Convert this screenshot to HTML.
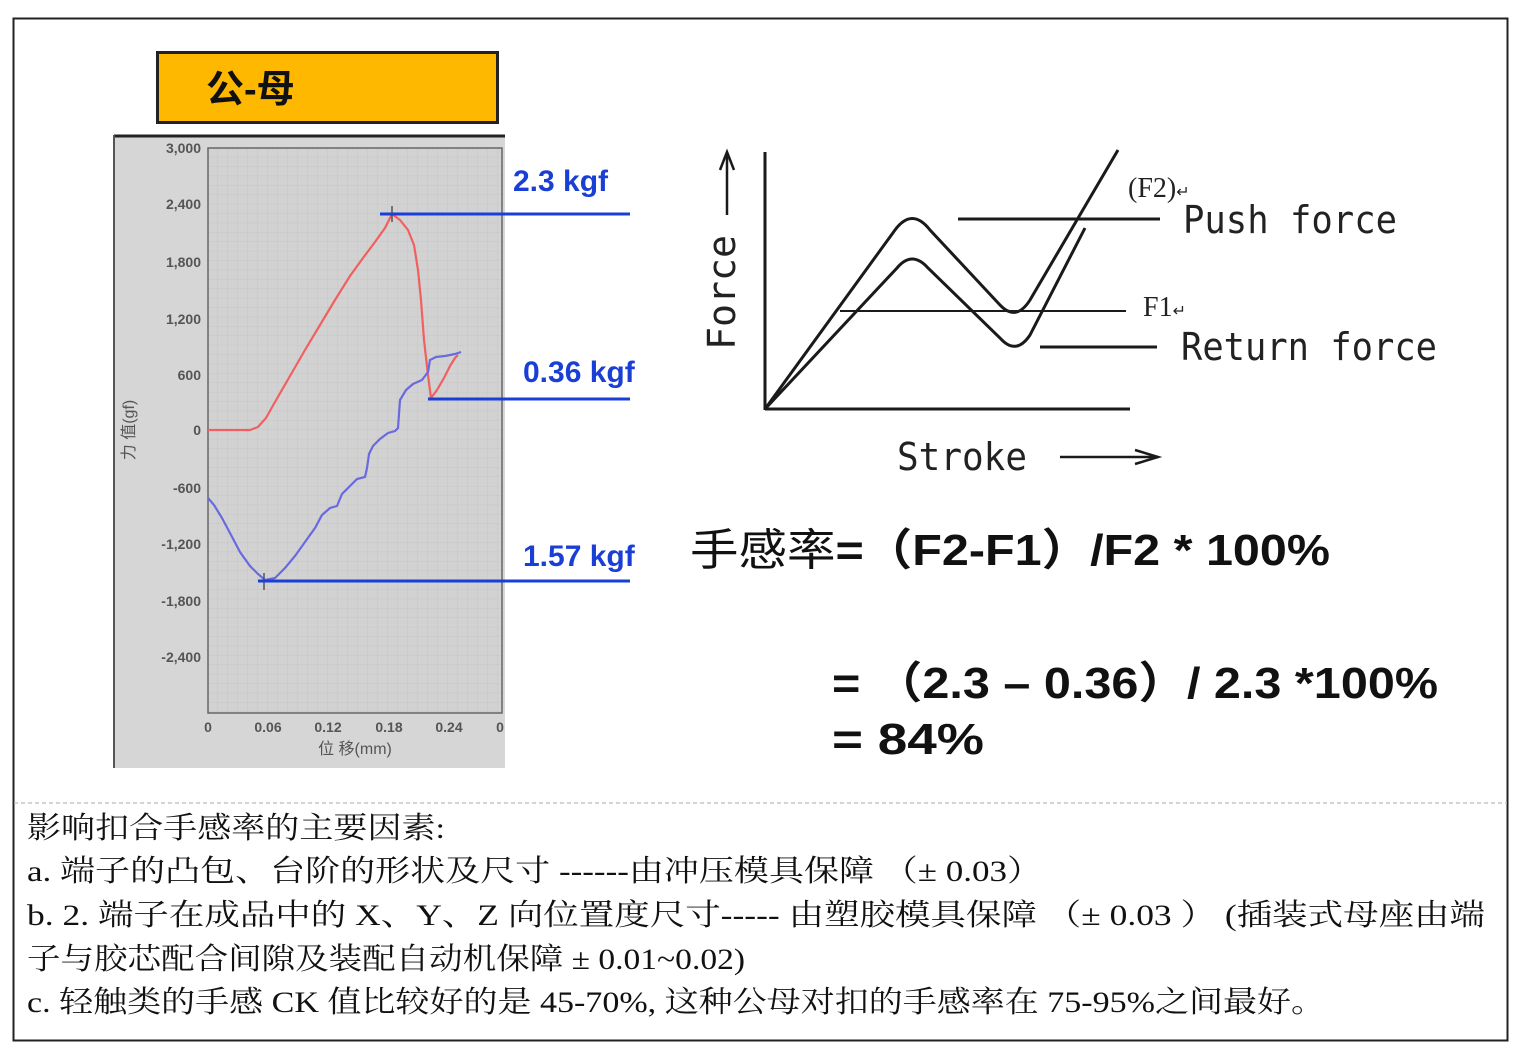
<!DOCTYPE html>
<html><head><meta charset="utf-8"><style>
html,body{margin:0;padding:0;background:#fff;}
svg{display:block;}
.s{font-family:"Liberation Serif","Noto Serif CJK SC",serif;font-size:30px;fill:#111;}
.t{font-family:"Liberation Sans","DejaVu Sans",sans-serif;font-size:14px;fill:#555;font-weight:bold;}
.k{font-family:"Liberation Sans",sans-serif;font-size:30px;font-weight:bold;fill:#1a3fd6;}
.f{font-family:"Liberation Sans","Noto Sans CJK SC",sans-serif;font-size:44px;font-weight:bold;fill:#111;}
.d{font-family:"DejaVu Sans Mono","Liberation Mono",monospace;font-size:38px;fill:#222;}
</style></head><body>
<svg width="1522" height="1056" viewBox="0 0 1522 1056" xmlns="http://www.w3.org/2000/svg">
<defs>
<pattern id="g" width="10" height="9.4" patternUnits="userSpaceOnUse" x="208" y="148">
<path d="M10 0V9.4M0 9.4H10" stroke="#c4c4c4" stroke-width="0.8" fill="none"/>
</pattern>
</defs>
<rect x="0" y="0" width="1522" height="1056" fill="#fff"/>
<rect x="13.5" y="18.5" width="1494" height="1022" fill="none" stroke="#222" stroke-width="2"/>
<line x1="14" y1="803" x2="1507" y2="803" stroke="#bbb" stroke-width="1.2" stroke-dasharray="4,3"/>

<rect x="157.5" y="52.5" width="340" height="70" fill="#FFB800" stroke="#222" stroke-width="3"/>
<text x="206" y="102" style="font-family:'Liberation Sans','Noto Sans CJK SC',sans-serif;font-size:38px;font-weight:bold" fill="#111">公-母</text>

<rect x="114" y="135" width="391" height="633" fill="#d6d6d6"/>
<line x1="114" y1="136" x2="505" y2="136" stroke="#222" stroke-width="3"/>
<line x1="114" y1="135" x2="114" y2="768" stroke="#555" stroke-width="2"/>
<rect x="208" y="148" width="294" height="565" fill="#d2d2d2"/>
<rect x="208" y="148" width="294" height="565" fill="url(#g)"/>
<rect x="208" y="148" width="294" height="565" fill="none" stroke="#666" stroke-width="1.5"/>
<g class="t" text-anchor="end">
<text x="201" y="153">3,000</text><text x="201" y="209">2,400</text><text x="201" y="267">1,800</text>
<text x="201" y="324">1,200</text><text x="201" y="380">600</text><text x="201" y="435">0</text>
<text x="201" y="493">-600</text><text x="201" y="549">-1,200</text><text x="201" y="606">-1,800</text>
<text x="201" y="662">-2,400</text>
</g>
<g class="t" text-anchor="middle">
<text x="208" y="732">0</text><text x="268" y="732">0.06</text><text x="328" y="732">0.12</text>
<text x="389" y="732">0.18</text><text x="449" y="732">0.24</text><text x="500" y="732">0</text>
</g>
<text x="355" y="754" text-anchor="middle" style="font-family:'Liberation Sans','Noto Sans CJK SC',sans-serif;font-size:16px;fill:#555">位 移(mm)</text>
<text transform="translate(134,430) rotate(-90)" text-anchor="middle" style="font-family:'Liberation Sans','Noto Sans CJK SC',sans-serif;font-size:16px;fill:#555">力 值(gf)</text>

<polyline fill="none" stroke="#f06060" stroke-width="2.2" points="208,430 250,430 258,427 266,418 275,402 290,376 305,350 320,325 335,300 350,276 363,258 375,242 385,228 392,214 400,220 408,230 414,245 418,270 421,300 424,340 428,375 431,398 437,390 444,378 450,366 455,358 458,355"/>
<polyline fill="none" stroke="#6a6ae0" stroke-width="2.2" points="208,498 214,505 222,518 230,533 240,552 250,566 258,574 265,580 275,578 285,568 295,556 305,542 315,528 322,515 330,508 337,506 342,494 350,486 357,479 365,477 367,468 369,454 373,446 380,439 388,433 395,431 398,428 400,400 406,390 413,384 422,380 428,372 430,360 436,357 445,356 455,354 461,352"/>
<line x1="392" y1="206" x2="392" y2="222" stroke="#555" stroke-width="1.5"/>
<line x1="264" y1="573" x2="264" y2="590" stroke="#555" stroke-width="1.5"/>

<g stroke="#1a3fd6" stroke-width="3">
<line x1="380" y1="214" x2="630" y2="214"/>
<line x1="428" y1="399" x2="630" y2="399"/>
<line x1="258" y1="581" x2="630" y2="581"/>
</g>
<text class="k" x="513" y="191">2.3 kgf</text>
<text class="k" x="523" y="382">0.36 kgf</text>
<text class="k" x="523" y="566">1.57 kgf</text>

<g stroke="#1a1a1a" fill="none" stroke-width="3">
<line x1="765" y1="152" x2="765" y2="410"/>
<line x1="765" y1="409" x2="1130" y2="409"/>
<path d="M765,409 L895,230 Q912,207 930,230 L1000,305 Q1016,322 1030,300 L1118,150"/>
<path d="M765,409 L897,268 Q912,250 928,268 L1000,338 Q1016,356 1030,335 L1085,228"/>
<line x1="958" y1="219" x2="1160" y2="219"/>
<line x1="840" y1="311" x2="1126" y2="311" stroke-width="2"/>
<line x1="1040" y1="347" x2="1157" y2="347"/>
<line x1="727" y1="215" x2="727" y2="155" stroke-width="2.5"/>
<path d="M720,170 L727,152 L734,170" stroke-width="2.5"/>
<line x1="1060" y1="457" x2="1158" y2="457" stroke-width="2.5"/>
<path d="M1135,450 L1158,457 L1135,464" stroke-width="2.5"/>
</g>
<text class="d" transform="translate(735,350) rotate(-90)" textLength="115" lengthAdjust="spacingAndGlyphs">Force</text>
<text class="d" x="1183" y="233" textLength="214" lengthAdjust="spacingAndGlyphs">Push force</text>
<text class="d" x="1181" y="360" textLength="256" lengthAdjust="spacingAndGlyphs">Return force</text>
<text class="d" x="897" y="470" textLength="130" lengthAdjust="spacingAndGlyphs">Stroke</text>
<text x="1128" y="197" style="font-family:'Liberation Serif','Noto Serif CJK SC',serif;font-size:28px;fill:#222">(F2)<tspan font-size="16">↵</tspan></text>
<text x="1143" y="316" style="font-family:'Liberation Serif',serif;font-size:28px;fill:#222">F1<tspan font-size="16">↵</tspan></text>

<text class="f" x="690" y="565" textLength="640" lengthAdjust="spacingAndGlyphs"><tspan font-weight="normal">手感率</tspan>=（F2-F1）/F2 * 100%</text>
<text class="f" x="832" y="698" textLength="606" lengthAdjust="spacingAndGlyphs">= （2.3 – 0.36）/ 2.3 *100%</text>
<text class="f" x="832" y="754" textLength="152" lengthAdjust="spacingAndGlyphs">=  84%</text>

<text class="s" x="27" y="838" textLength="418" lengthAdjust="spacingAndGlyphs">影响扣合手感率的主要因素:</text>
<text class="s" x="27" y="881" textLength="1015" lengthAdjust="spacingAndGlyphs">a.  端子的凸包、台阶的形状及尺寸  ------由冲压模具保障 （± 0.03）</text>
<text class="s" x="27" y="925" textLength="1458" lengthAdjust="spacingAndGlyphs">b.  2. 端子在成品中的 X、Y、Z 向位置度尺寸-----  由塑胶模具保障 （± 0.03 ）  (插装式母座由端</text>
<text class="s" x="27" y="969" textLength="718" lengthAdjust="spacingAndGlyphs">子与胶芯配合间隙及装配自动机保障 ± 0.01~0.02)</text>
<text class="s" x="27" y="1012" textLength="1298" lengthAdjust="spacingAndGlyphs">c.  轻触类的手感 CK 值比较好的是 45-70%,  这种公母对扣的手感率在 75-95%之间最好。</text>
</svg>
</body></html>
